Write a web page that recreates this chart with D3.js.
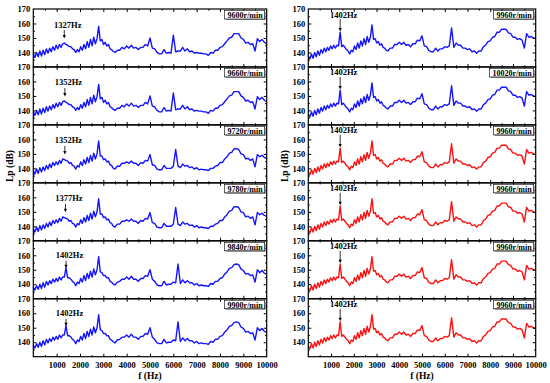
<!DOCTYPE html>
<html>
<head>
<meta charset="utf-8">
<script src="https://cdn.jsdelivr.net/npm/d3@7"></script>
<style>
body { margin: 0; background: #fff; }
text { font-family: "Liberation Serif", "Times New Roman", serif; font-weight: bold; }
</style>
</head>
<body>
<script>
// frequency grid of the spectra (Hz)
var freq = d3.range(0, 3361, 70).concat(d3.range(3400, 10001, 100));

// Lp (dB), one value per freq point
var spA = [ // 9600 / 9660 r/min
  139, 136.5, 140, 137, 141, 137.5, 141.5,
  138.5, 142.5, 139.5, 143, 140.5, 144, 141.5,
  145, 142.5, 145.5, 143.5, 146, 146.5, 145.5,
  145, 144, 144, 142.5, 142, 140, 142,
  140.5, 144, 141.5, 145.5, 142.5, 147.5, 143.5,
  149, 144.5, 150.5, 146, 149.5, 158, 148,
  149, 145.5, 147, 144.5, 145.5, 142.5, 142,
  141, 140, 141.5, 141.5, 143.5, 142.5,
  144.5, 143, 145, 143, 143.5, 142, 143.5, 143.5, 145.5, 144.5,
  150, 143, 142.5, 140, 139, 139, 142, 139.5, 140, 139.5,
  152, 140.5, 141, 141, 143.5, 141, 142.5, 140.5, 141, 139.5,
  140, 139.5, 139.5, 139, 139, 138, 140, 139.5, 141.5, 141.5,
  143.5, 144, 146, 148, 150, 150.5, 153, 153, 153, 150,
  149, 146.5, 147, 145.5, 146, 141, 149.5, 147.5, 149, 147,
  146
];
var spB = [ // 9720 / 9780 r/min
  138.5, 136, 139.5, 136.5, 140.5, 137.5, 141,
  138.5, 142, 139.5, 143, 140.5, 144, 142,
  144.5, 142.5, 145.5, 143.5, 146.5, 146, 145.5,
  145, 143.5, 144, 142, 141.5, 139.5, 142,
  141, 144.5, 142, 146, 143, 147.5, 144,
  149, 145, 150.5, 146.5, 150, 159, 148.5,
  148.5, 146, 146.5, 144.5, 145, 142.5, 142,
  140.5, 139.5, 141.5, 141.5, 143.5, 143.5,
  144.5, 143.5, 145, 143.5, 143.5, 142, 144, 143.5, 145.5, 145,
  149.5, 142.5, 142, 139.5, 139, 139, 142, 140, 140, 140,
  141.5, 153, 141.5, 140.5, 143, 141.5, 142, 140.5, 141, 139.5,
  140.5, 139, 139.5, 139, 139, 138.5, 140, 140, 141.5, 142,
  144, 144, 146.5, 148, 150.5, 151, 153.5, 153.5, 153, 150,
  149.5, 146.5, 147, 145.5, 146.5, 141, 149.5, 148, 149, 147.5,
  147
];
var spC = [ // 9840 / 9900 r/min
  138, 136, 139, 136.5, 140, 137, 141,
  138, 142, 139.5, 142.5, 140.5, 143.5, 141.5,
  144, 142, 145, 143, 145, 145, 151.5,
  144.5, 144.5, 143.5, 142, 141, 139, 141.5,
  140.5, 144, 141.5, 146, 142.5, 147.5, 144,
  149, 145, 150.5, 146.5, 150, 159, 148.5,
  148, 146, 146, 144.5, 144.5, 142, 141.5,
  140.5, 139.5, 141.5, 142, 143.5, 143.5,
  145, 143.5, 145.5, 143.5, 143.5, 142, 144, 144, 146, 145.5,
  150, 143.5, 142, 139.5, 139, 139, 142, 139.5, 140, 140,
  141.5, 141, 154, 140.5, 143, 141, 142.5, 141, 141, 139.5,
  140.5, 139, 139.5, 139, 139, 138.5, 140.5, 140, 142, 142,
  144, 144.5, 147, 148.5, 151, 151.5, 153.5, 154, 153.5, 150.5,
  149.5, 147, 147.5, 146, 146.5, 141.5, 150, 148, 149.5, 147.5,
  147
];
var spR = [ // 9960 / 10020 r/min
  137.5, 135.5, 139, 136, 140, 137, 141,
  138, 142, 139.5, 143, 140.5, 143.5, 141.5,
  144.5, 142.5, 145, 143, 145, 144.5, 154,
  144, 145, 143.5, 142, 141, 139, 141.5,
  140.5, 144.5, 142, 146.5, 143, 148, 144.5,
  149.5, 145.5, 151, 147, 150.5, 159, 149,
  149.5, 146.5, 147.5, 145, 146, 143.5, 143,
  142, 141, 143, 143, 145.5, 145.5,
  147, 145.5, 147, 145, 145.5, 144, 146, 146, 148.5, 148,
  151.5, 144.5, 144, 141.5, 140.5, 140.5, 143, 141, 142.5, 142.5,
  144, 143.5, 144.5, 157, 143.5, 146.5, 145, 145, 143, 143,
  142, 142.5, 140.5, 141, 139.5, 141, 141, 144, 145, 147.5,
  148, 150.5, 151, 154, 154, 156, 156, 156, 153.5, 153,
  150.5, 150.5, 149, 149.5, 148.5, 143, 153, 150.5, 151, 150,
  149.5
];

var leftRpm = ["9600r/min", "9660r/min", "9720r/min", "9780r/min", "9840r/min", "9900r/min"];
var leftPeak = ["1327Hz", "1352Hz", "1352Hz", "1377Hz", "1402Hz", "1402Hz"];
var leftPeakF = [1327, 1352, 1352, 1377, 1402, 1402];
var leftSeries = [spA, spA, spB, spB, spC, spC];

var rightRpm = ["9960r/min", "10020r/min", "9960r/min", "9960r/min", "9960r/min", "9960r/min"];
var rightPeak = ["1402Hz", "1402Hz", "1402Hz", "1402Hz", "1402Hz", "1402Hz"];
var rightPeakF = [1402, 1402, 1402, 1402, 1402, 1402];
var rightSeries = [spR, spR, spR, spR, spR, spR];
var rightColors = ["#1414ff", "#1414ff", "#ff1010", "#ff1010", "#ff1010", "#ff1010"];

var yTicks = [140, 150, 160, 170];
var xTicks = [1000, 2000, 3000, 4000, 5000, 6000, 7000, 8000, 9000, 10000];

var W = 550, H = 383;
var top0 = 9, panelH = 57.95;

var svg = d3.select("body").append("svg")
  .attr("width", W)
  .attr("height", H);

var drawColumn = function(x0, x1, series, colors, rpm, peak, peakF, arrowPos){
  var x = d3.scaleLinear().domain([0, 10000]).range([x0, x1]);

  series.forEach(function(s, i){
    var py = top0 + i * panelH;
    var y = d3.scaleLinear().domain([130, 170]).range([py + panelH, py]);
    var g = svg.append("g");

    var pts = freq.map(function(f, j){ return [f, s[j]]; });
    g.append("path")
      .datum(pts)
      .attr("fill", "none")
      .attr("stroke", colors[i])
      .attr("stroke-width", 1.4)
      .attr("stroke-linejoin", "round")
      .attr("d", d3.line().x(function(d){ return x(d[0]); }).y(function(d){ return y(d[1]); }));

    // inward ticks on all four sides
    var minorX = d3.range(500, 10000, 1000);
    var majorX = d3.range(1000, 10000, 1000);
    var minorY = [135, 145, 155, 165];
    var majorY = [140, 150, 160];
    [[d3.axisBottom, py + panelH], [d3.axisTop, py]].forEach(function(a){
      g.append("g").attr("transform", "translate(0," + a[1] + ")")
        .call(a[0](x).tickValues(majorX).tickSize(-3).tickFormat(""));
      g.append("g").attr("transform", "translate(0," + a[1] + ")")
        .call(a[0](x).tickValues(minorX).tickSize(-1.6).tickFormat(""));
    });
    [[d3.axisLeft, x0], [d3.axisRight, x1]].forEach(function(a){
      g.append("g").attr("transform", "translate(" + a[1] + ",0)")
        .call(a[0](y).tickValues(majorY).tickSize(-3).tickFormat(""));
      g.append("g").attr("transform", "translate(" + a[1] + ",0)")
        .call(a[0](y).tickValues(minorY).tickSize(-1.6).tickFormat(""));
    });
    g.selectAll(".domain").remove();
    g.selectAll(".tick line").attr("stroke", "#000").attr("stroke-width", 1);

    // y tick labels
    var yl = g.append("g").attr("transform", "translate(" + x0 + ",0)")
      .call(d3.axisLeft(y).tickValues(yTicks).tickSize(0).tickPadding(3));
    yl.select(".domain").remove();
    yl.selectAll("text").attr("font-size", 8.5).attr("fill", "#000")
      .style("font-family", "'Liberation Serif', serif").style("font-weight", "bold");

    g.append("rect")
      .attr("x", x0).attr("y", py)
      .attr("width", x1 - x0).attr("height", panelH)
      .attr("fill", "none").attr("stroke", "#000").attr("stroke-width", 1.2);

    // rpm label box with shadow
    var bg = g.append("g");
    var shadow = bg.append("rect").attr("fill", "#888");
    var box = bg.append("rect").attr("fill", "#fff").attr("stroke", "#000").attr("stroke-width", 0.6);
    var lab = bg.append("text")
      .attr("font-size", 8)
      .attr("text-anchor", "end")
      .attr("x", x1 - 4)
      .attr("y", py + 9)
      .text(rpm[i]);
    var tw = lab.node().getComputedTextLength();
    shadow.attr("x", x1 - tw - 6).attr("y", py + 2.5).attr("width", tw + 5).attr("height", 8.5);
    box.attr("x", x1 - tw - 7).attr("y", py + 1.5).attr("width", tw + 5).attr("height", 8.5);

    // peak annotation
    var ap = arrowPos[i];
    var ax = x(peakF[i]);
    g.append("text")
      .attr("font-size", 8.5)
      .attr("text-anchor", "middle")
      .attr("x", ax + 3.5)
      .attr("y", py + ap[0])
      .text(peak[i]);
    g.append("line")
      .attr("x1", ax).attr("x2", ax)
      .attr("y1", py + ap[1]).attr("y2", py + ap[2] - 3)
      .attr("stroke", "#000").attr("stroke-width", 0.8);
    g.append("path")
      .attr("d", "M" + (ax - 1.6) + "," + (py + ap[2] - 3.5) + "L" + (ax + 1.6) + "," + (py + ap[2] - 3.5) + "L" + ax + "," + (py + ap[2]) + "Z")
      .attr("fill", "#000");
  });

  // x tick labels below the last panel
  var xl = svg.append("g").attr("transform", "translate(0," + (top0 + 6 * panelH) + ")")
    .call(d3.axisBottom(x).tickValues(xTicks).tickSize(0).tickPadding(5).tickFormat(d3.format("d")));
  xl.select(".domain").remove();
  xl.selectAll("text").attr("font-size", 8.5).attr("fill", "#000")
    .style("font-family", "'Liberation Serif', serif").style("font-weight", "bold");

  svg.append("text")
    .attr("font-size", 9.5)
    .attr("text-anchor", "middle")
    .attr("x", (x0 + x1) / 2)
    .attr("y", 379)
    .text("f (Hz)");
};

var leftArrows = [[18.5, 21, 29.5], [18.5, 21, 29.5], [18.5, 21, 29.5], [18.5, 21, 29.5], [17.5, 20, 27.5], [17.5, 20, 27.5]];
var rightArrows = [[8.5, 10, 22.5], [8.5, 10, 22.5], [8.5, 10, 22.5], [8.5, 10, 22.5], [8.5, 10, 22.5], [8.5, 10, 22.5]];

drawColumn(33.3, 266.7, leftSeries, ["#1414ff", "#1414ff", "#1414ff", "#1414ff", "#1414ff", "#1414ff"], leftRpm, leftPeak, leftPeakF, leftArrows);
drawColumn(308.3, 535.7, rightSeries, rightColors, rightRpm, rightPeak, rightPeakF, rightArrows);

// y axis titles
[10, 285].forEach(function(tx){
  svg.append("text")
    .attr("font-size", 9.5)
    .attr("text-anchor", "middle")
    .attr("transform", "translate(" + (tx + 3) + ",166) rotate(-90)")
    .text("Lp (dB)");
});
</script>
</body>
</html>
